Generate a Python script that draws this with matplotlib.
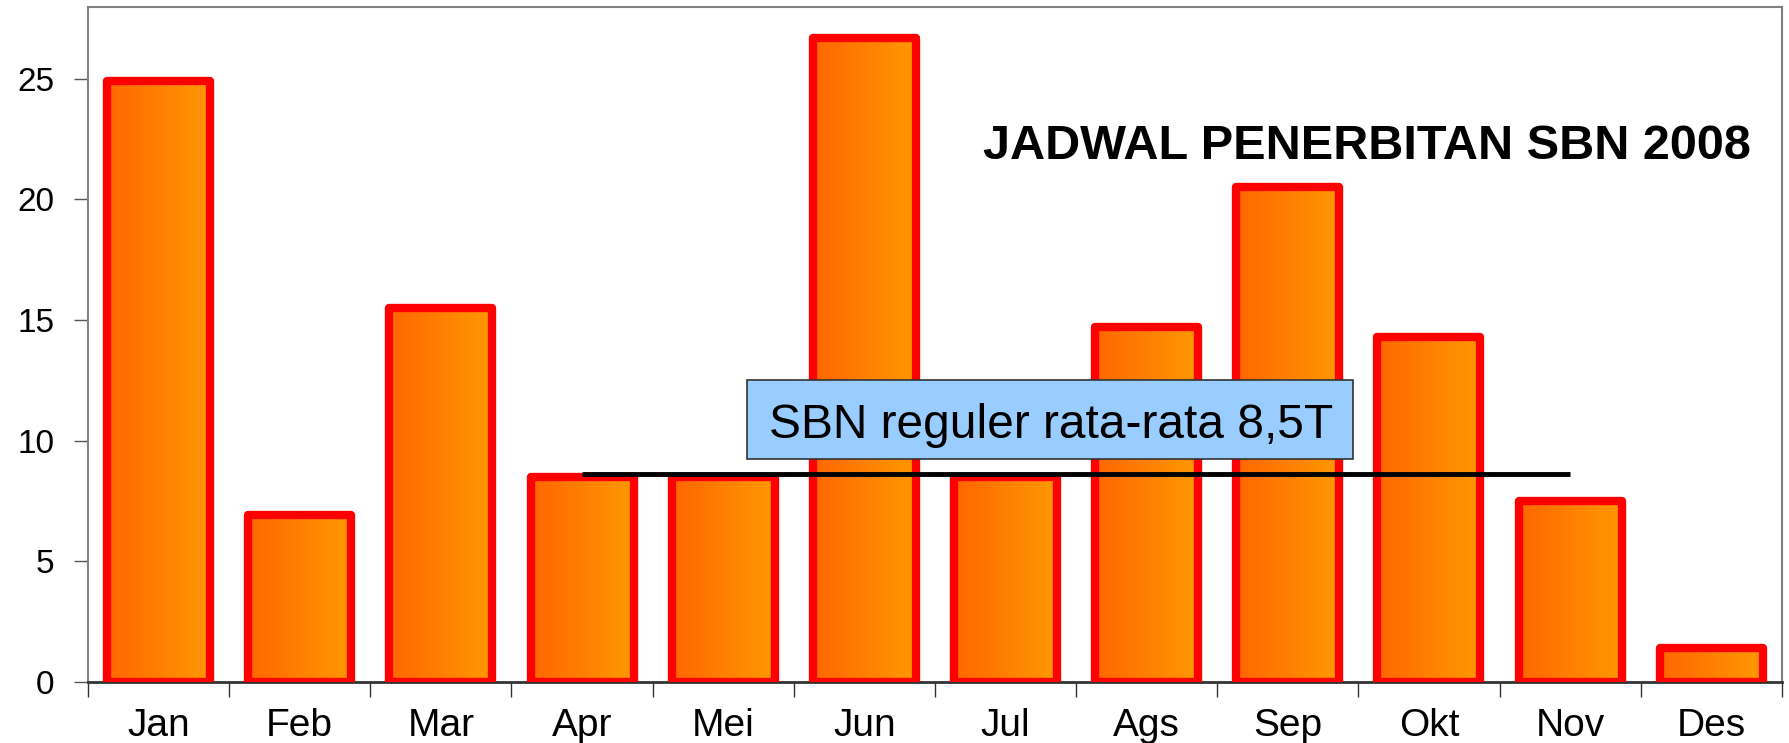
import numpy as np
import matplotlib
matplotlib.use("Agg")
import matplotlib.pyplot as plt
from matplotlib.colors import LinearSegmentedColormap
from matplotlib.patches import Rectangle
from matplotlib import font_manager

months = ["Jan", "Feb", "Mar", "Apr", "Mei", "Jun", "Jul", "Ags", "Sep", "Okt", "Nov", "Des"]
values = [24.9, 6.9, 15.5, 8.5, 8.5, 26.7, 8.5, 14.7, 20.5, 14.3, 7.5, 1.4]
avg_value = 8.6
avg_from, avg_to = 3, 10
title_text = "JADWAL PENERBITAN SBN 2008"
box_text = "SBN reguler rata-rata 8,5T"
yticks = [0, 5, 10, 15, 20, 25]

names = {f.name for f in font_manager.fontManager.ttflist}
narrow = "Liberation Sans Narrow" if "Liberation Sans Narrow" in names else "Liberation Sans"

fig = plt.figure(figsize=(17.89, 7.43), dpi=100)
ax = fig.add_axes([0.0492, 0.0821, 0.9468, 0.9079])

x = np.arange(len(months))
width = 0.73
cmap = LinearSegmentedColormap.from_list("og", ["#FF6600", "#FF9900"])
grad = np.linspace(0, 1, 256).reshape(1, -1)

bars = ax.bar(x, values, width=width, facecolor="none", edgecolor="none", zorder=2)
for b in bars:
    x0, y0 = b.get_x(), b.get_y()
    w, h = b.get_width(), b.get_height()
    im = ax.imshow(grad, cmap=cmap, aspect="auto", extent=[x0, x0 + w, y0, y0 + h],
                   zorder=2, interpolation="bilinear")
    im.set_clip_path(b)
ax.bar(x, values, width=width, facecolor="none", edgecolor="#FF0000",
       linewidth=6, joinstyle="round", zorder=3)

ax.plot([avg_from, avg_to], [avg_value, avg_value], color="black", lw=3.5, zorder=4,
        solid_capstyle="butt")

ax.add_patch(Rectangle((4.17, 9.23), 4.29, 3.27, facecolor="#99CCFF", edgecolor="#333333",
                       lw=1.2, zorder=5))
ax.text(6.32, 10.09, box_text, ha="center", va="baseline", fontsize=34.5,
        family=[narrow, "DejaVu Sans"], zorder=6)

ax.text(8.56, 21.69, title_text, ha="center", va="baseline", fontsize=35, fontweight="bold",
        family=[narrow, "DejaVu Sans"], zorder=5)

ax.set_xlim(-0.5, len(months) - 0.5)
ax.set_ylim(0, 27.95)
ax.set_xticks(x)
ax.set_xticklabels(months, family=[narrow, "DejaVu Sans"], fontsize=28)
ax.set_xticks(np.arange(-0.5, len(months), 1.0), minor=True)
ax.tick_params(axis="x", which="major", length=0, pad=19)
ax.tick_params(axis="x", which="minor", length=11, width=1, color="#333333", direction="out")
ax.set_yticks(yticks)
ax.set_yticklabels([str(v) for v in yticks], family=["Liberation Sans", "DejaVu Sans"], fontsize=24)
ax.tick_params(axis="y", length=10, width=1, color="#555555", pad=14)

for s in ["left", "top", "right"]:
    ax.spines[s].set_color("#808080")
    ax.spines[s].set_linewidth(1.5)
ax.spines["bottom"].set_color("#333333")
ax.spines["bottom"].set_linewidth(2)

fig.savefig("out.png", dpi=100)
